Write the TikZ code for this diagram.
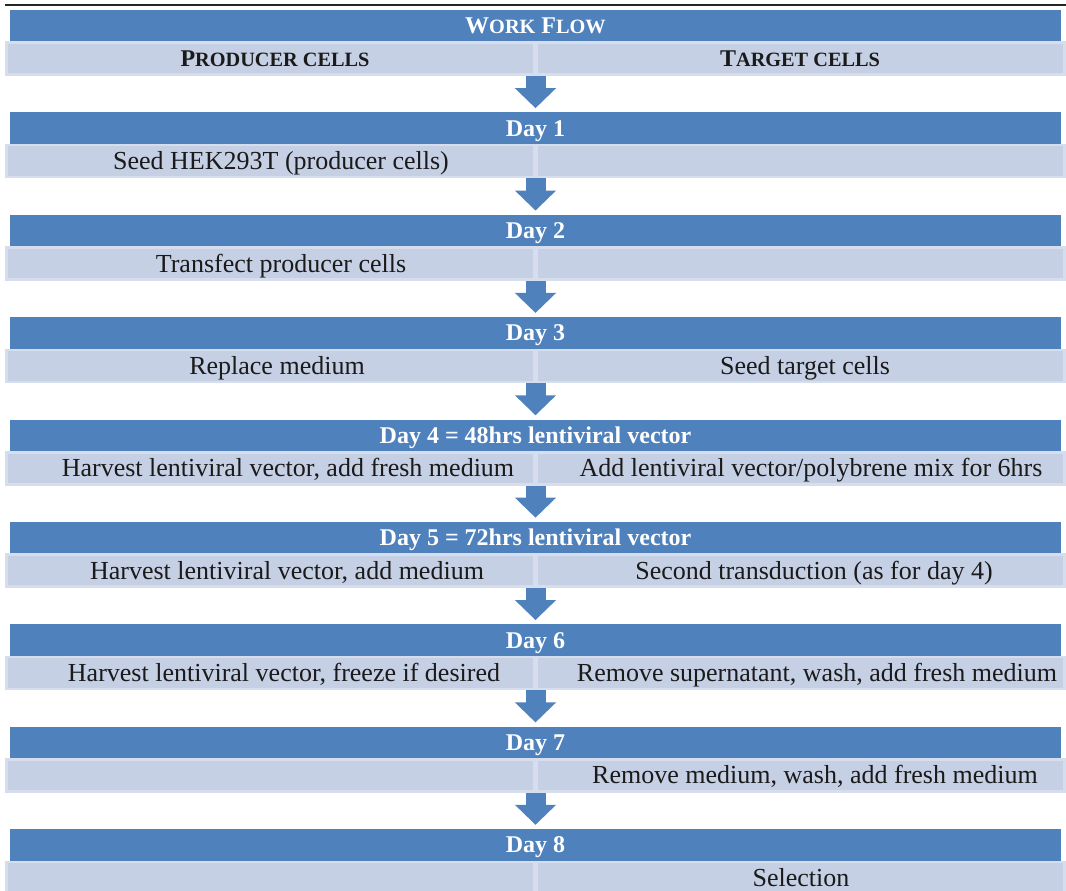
\documentclass[tikz,border=0pt]{standalone}
\usepackage{fontspec}
\setmainfont{Liberation Serif}
\usetikzlibrary{arrows.meta}

\definecolor{wfblue}{HTML}{4F81BD}
\definecolor{wflight}{HTML}{C6D0E5}
\definecolor{wfedge}{HTML}{D6DDEC}
\definecolor{wfink}{HTML}{1A1A1A}
\newcommand{\wfsc}[1]{{\fontsize{20.3}{23}\selectfont #1}}

\tikzset{
	daybar/.style={fill=wfblue, minimum width=1051pt, minimum height=31.5pt, inner sep=0pt},
	cellbar/.style={fill=wflight, draw=wfedge, line width=2.5pt, minimum width=1058pt, minimum height=32pt, inner sep=0pt},
	divider/.style={fill=wfedge, minimum width=5pt, minimum height=34pt, inner sep=0pt},
	daytext/.style={text=white, inner sep=0pt, text height=16pt, text depth=0pt, font=\fontsize{24}{28}\selectfont\bfseries},
	celltext/.style={text=wfink, inner sep=0pt, text height=17.2pt, text depth=0pt, font=\fontsize{26}{30}\selectfont},
	headtext/.style={text=wfink, inner sep=0pt, text height=16pt, text depth=0pt, font=\fontsize{24}{28}\selectfont\bfseries},
	flowarrow/.style={draw=wfblue, line width=20pt, -{Triangle[width=40pt,length=20pt]}, shorten >=4pt},
}

\begin{document}
\begin{tikzpicture}[x=1pt, y=-1pt]
		\useasboundingbox (0,0) rectangle (1066,891);
		\coordinate (tl) at (5,5);
		\coordinate (tr) at (1066,5);
		\draw [line width=1.5pt, black!85] (tl) -- (tr);
		% light rows
		\node [cellbar] (c0) at (535.5,58.75) {};
		\node [cellbar] (c1) at (535.5,161.125) {};
		\node [cellbar] (c2) at (535.5,263.5) {};
		\node [cellbar] (c3) at (535.5,365.875) {};
		\node [cellbar] (c4) at (535.5,468.25) {};
		\node [cellbar] (c5) at (535.5,570.625) {};
		\node [cellbar] (c6) at (535.5,673) {};
		\node [cellbar] (c7) at (535.5,775.375) {};
		\node [cellbar] (c8) at (535.5,877.75) {};
		\node [divider] (v0) at (c0) {};
		\node [divider] (v1) at (c1) {};
		\node [divider] (v2) at (c2) {};
		\node [divider] (v3) at (c3) {};
		\node [divider] (v4) at (c4) {};
		\node [divider] (v5) at (c5) {};
		\node [divider] (v6) at (c6) {};
		\node [divider] (v7) at (c7) {};
		\node [divider] (v8) at (c8) {};
		% blue rows
		\node [daybar] (d0) at (535.5,25.75) {};
		\node [daybar] (d1) at (535.5,128.125) {};
		\node [daybar] (d2) at (535.5,230.5) {};
		\node [daybar] (d3) at (535.5,332.875) {};
		\node [daybar] (d4) at (535.5,435.25) {};
		\node [daybar] (d5) at (535.5,537.625) {};
		\node [daybar] (d6) at (535.5,640) {};
		\node [daybar] (d7) at (535.5,742.375) {};
		\node [daybar] (d8) at (535.5,844.75) {};
		\node [daytext] (t0) at (d0) {W\wfsc{ORK} F\wfsc{LOW}};
		\node [daytext] (t1) at (d1) {Day 1};
		\node [daytext] (t2) at (d2) {Day 2};
		\node [daytext] (t3) at (d3) {Day 3};
		\node [daytext] (t4) at (d4) {Day 4 = 48hrs lentiviral vector};
		\node [daytext] (t5) at (d5) {Day 5 = 72hrs lentiviral vector};
		\node [daytext] (t6) at (d6) {Day 6};
		\node [daytext] (t7) at (d7) {Day 7};
		\node [daytext] (t8) at (d8) {Day 8};
		% arrows
		\draw [flowarrow] (c0.south) to (d1.north);
		\draw [flowarrow] (c1.south) to (d2.north);
		\draw [flowarrow] (c2.south) to (d3.north);
		\draw [flowarrow] (c3.south) to (d4.north);
		\draw [flowarrow] (c4.south) to (d5.north);
		\draw [flowarrow] (c5.south) to (d6.north);
		\draw [flowarrow] (c6.south) to (d7.north);
		\draw [flowarrow] (c7.south) to (d8.north);
		% producer side
		\node [headtext] (p0) at (275,58.75) {P\wfsc{RODUCER CELLS}};
		\node [celltext] (p1) at (281,161.125) {Seed HEK293T (producer cells)};
		\node [celltext] (p2) at (281,263.5) {Transfect producer cells};
		\node [celltext] (p3) at (277,365.875) {Replace medium};
		\node [celltext] (p4) at (288,468.25) {Harvest lentiviral vector, add fresh medium};
		\node [celltext] (p5) at (287,570.625) {Harvest lentiviral vector, add medium};
		\node [celltext] (p6) at (284,673) {Harvest lentiviral vector, freeze if desired};
		% target side
		\node [headtext] (q0) at (800,58.75) {T\wfsc{ARGET CELLS}};
		\node [celltext] (q3) at (805,365.875) {Seed target cells};
		\node [celltext] (q4) at (811,468.25) {Add lentiviral vector/polybrene mix for 6hrs};
		\node [celltext] (q5) at (814,570.625) {Second transduction (as for day 4)};
		\node [celltext] (q6) at (817,673) {Remove supernatant, wash, add fresh medium};
		\node [celltext] (q7) at (815,775.375) {Remove medium, wash, add fresh medium};
		\node [celltext] (q8) at (801,877.75) {Selection};
\end{tikzpicture}
\end{document}
